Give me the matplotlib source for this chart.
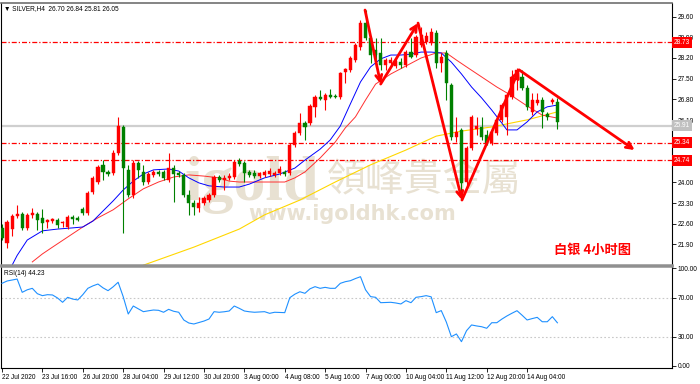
import matplotlib
matplotlib.use("Agg")
import matplotlib.pyplot as plt
import matplotlib.transforms as mtransforms
import numpy as np

# SILVER H4 candles (bar 0 = 22 Jul 2020)
opens = [22.46, 21.95, 22.42, 22.86, 22.93, 22.46, 22.90, 22.93, 22.80, 22.66,
         22.69, 22.73, 22.63, 22.49, 22.83, 22.80, 23.10, 22.96, 23.67, 24.01,
         24.59, 24.35, 24.32, 24.99, 25.87, 24.42, 23.57, 24.65, 24.35, 24.01,
         24.25, 24.35, 24.35, 24.08, 24.49, 24.32, 24.25, 23.57, 23.30, 23.13,
         23.30, 23.40, 23.57, 24.18, 24.08, 24.15, 24.18, 24.72, 24.65, 24.35,
         24.32, 24.21, 24.25, 24.28, 24.25, 24.32, 24.35, 24.32, 25.26, 25.67,
         26.00, 26.00, 26.55, 26.88, 26.78, 26.95, 26.92, 26.88, 27.73, 27.80,
         28.13, 28.57, 29.38, 28.88, 28.47, 28.37, 27.96, 28.03, 27.93, 28.07,
         27.96, 28.40, 28.30, 28.64, 28.74, 28.71, 29.05, 28.03, 28.37, 27.29,
         25.53, 25.77, 24.01, 25.16, 25.80, 25.87, 25.60, 25.33, 25.67, 26.11,
         26.21, 26.88, 27.46, 27.56, 27.19, 26.38, 26.68, 26.78, 26.31, 26.71,
         26.70]
highs = [22.59, 22.73, 22.93, 23.24, 23.00, 22.96, 23.13, 23.00, 23.10, 22.76,
         22.80, 22.80, 22.69, 22.90, 22.90, 22.86, 23.17, 23.71, 24.21, 24.59,
         24.75, 24.42, 25.09, 26.21, 25.94, 24.59, 24.75, 24.72, 24.59, 24.35,
         24.42, 24.42, 24.42, 24.99, 24.59, 24.38, 24.32, 23.74, 23.40, 23.51,
         23.54, 23.64, 24.25, 24.25, 24.25, 24.32, 24.75, 24.82, 24.72, 24.42,
         24.42, 24.35, 24.42, 24.49, 24.38, 24.55, 24.42, 25.33, 25.73, 26.34,
         26.07, 26.65, 26.95, 27.12, 27.02, 27.15, 26.98, 27.73, 27.86, 28.27,
         28.71, 29.48, 29.82, 28.94, 28.88, 28.88, 28.20, 28.23, 28.20, 28.20,
         28.47, 28.88, 28.98, 29.25, 29.08, 29.21, 29.15, 28.37, 28.47, 27.36,
         26.21, 25.84, 25.23, 26.27, 26.21, 26.21, 25.77, 25.84, 26.17, 26.68,
         27.02, 27.80, 27.86, 27.80, 27.29, 27.02, 27.02, 26.88, 26.38, 26.85,
         26.84]
lows = [22.05, 21.78, 22.19, 22.80, 22.39, 22.39, 22.80, 22.39, 22.29, 22.46,
        22.63, 22.46, 22.49, 22.42, 22.59, 22.69, 22.90, 22.90, 23.61, 23.94,
        24.08, 24.21, 24.25, 24.92, 22.29, 23.51, 23.47, 24.15, 23.91, 23.94,
        24.18, 24.21, 24.08, 24.01, 23.34, 24.18, 23.51, 22.90, 22.90, 23.00,
        23.24, 23.34, 23.51, 24.01, 23.74, 24.08, 24.11, 24.55, 24.01, 24.18,
        24.15, 24.15, 24.18, 24.21, 24.18, 24.25, 24.21, 24.25, 25.19, 25.60,
        25.43, 25.94, 26.21, 26.78, 26.44, 26.85, 26.85, 26.82, 27.36, 27.73,
        28.07, 28.47, 28.81, 28.03, 27.90, 27.80, 27.80, 27.93, 27.86, 27.86,
        27.90, 28.20, 28.23, 28.57, 28.67, 28.64, 27.86, 27.73, 26.78, 25.43,
        25.36, 23.40, 23.91, 25.09, 25.60, 25.43, 25.26, 25.26, 25.60, 26.04,
        25.60, 26.82, 27.12, 27.12, 26.44, 26.27, 26.61, 25.84, 26.11, 26.65,
        25.81]
closes = [22.12, 22.66, 22.86, 22.93, 22.46, 22.90, 22.96, 22.73, 22.63, 22.73,
          22.76, 22.56, 22.66, 22.83, 22.76, 22.73, 22.96, 23.64, 24.15, 24.52,
          24.35, 24.28, 24.99, 25.90, 24.49, 23.57, 24.65, 24.42, 24.01, 24.28,
          24.35, 24.28, 24.15, 24.49, 24.28, 24.25, 23.57, 23.30, 23.17, 23.30,
          23.47, 23.57, 24.18, 24.08, 24.15, 24.21, 24.69, 24.62, 24.32, 24.25,
          24.21, 24.32, 24.35, 24.38, 24.32, 24.45, 24.28, 25.26, 25.67, 26.00,
          25.87, 26.58, 26.88, 26.82, 26.95, 26.88, 26.88, 27.69, 27.83, 28.20,
          28.64, 29.38, 28.88, 28.30, 28.30, 27.96, 28.13, 28.13, 28.10, 27.96,
          28.40, 28.23, 28.91, 28.98, 28.94, 29.08, 28.03, 28.23, 27.36, 25.53,
          25.70, 23.98, 25.16, 26.21, 25.90, 25.53, 25.33, 25.70, 26.11, 26.61,
          26.95, 27.56, 27.80, 27.19, 26.55, 26.78, 26.78, 26.38, 26.21, 26.78,
          26.05]

# moving averages as drawn on the chart (bar index, price)
ma_blue_idx = [2, 3, 5, 8, 11, 14, 16, 18, 20, 22, 24, 26, 28, 30, 33, 35, 37, 39, 41, 44,
               47, 49, 52, 55, 58, 60, 63, 65, 67, 69, 71, 73, 75, 77, 79, 81, 83, 85, 87, 89,
               91, 93, 95, 97, 99, 100, 102, 104, 106, 108, 110]
ma_blue_val = [21.20, 21.53, 22.05, 22.36, 22.42, 22.46, 22.49, 22.69, 23.03, 23.37,
               23.74, 24.04, 24.28, 24.42, 24.45, 24.38, 24.15, 23.98, 23.88, 23.84,
               23.84, 23.94, 24.15, 24.28, 24.48, 24.75, 25.12, 25.43, 25.90, 26.65,
               27.39, 27.90, 28.17, 28.30, 28.30, 28.33, 28.40, 28.40, 28.37, 28.06,
               27.66, 27.22, 26.85, 26.44, 26.00, 25.77, 25.77, 26.04, 26.38, 26.55,
               26.61]
ma_red_idx = [6, 8, 10, 13, 16, 19, 22, 25, 28, 31, 34, 37, 40, 43, 45, 47, 56, 58, 60, 63,
              66, 68, 70, 72, 74, 77, 80, 83, 86, 88, 90, 92, 95, 98, 101, 104, 107, 110]
ma_red_val = [21.31, 21.58, 21.81, 22.15, 22.49, 22.80, 23.07, 23.44, 23.78, 24.01,
              24.18, 24.25, 24.21, 24.15, 24.04, 24.01, 24.01, 24.15, 24.35, 24.82,
              25.36, 25.84, 26.21, 26.78, 27.32, 27.66, 27.93, 28.20, 28.37, 28.37,
              28.13, 27.90, 27.56, 27.22, 26.92, 26.58, 26.27, 26.17]
ma_yellow_idx = [28, 38, 47, 52, 59, 66, 73, 80, 86, 91, 97, 104, 110]
ma_yellow_val = [21.20, 21.81, 22.42, 22.90, 23.40, 24.01, 24.59, 25.09, 25.56, 25.73,
                 25.87, 26.11, 26.38]

rsi = [84.6, 87.0, 88.0, 89.0, 75.4, 78.0, 79.5, 74.0, 72.0, 73.0,
       72.7, 69.6, 65.2, 70.3, 68.5, 67.6, 73.0, 79.5, 82.0, 83.9,
       80.0, 77.1, 81.0, 85.7, 71.0, 53.2, 61.4, 58.5, 55.6, 56.5,
       57.3, 57.0, 55.0, 58.0, 56.0, 55.0, 47.1, 44.0, 43.0, 44.5,
       46.0, 48.1, 55.6, 55.0, 55.5, 56.3, 61.4, 59.0, 56.3, 55.5,
       55.0, 55.3, 55.6, 53.9, 55.0, 54.8, 54.6, 69.9, 73.5, 76.0,
       74.4, 79.0, 81.2, 79.5, 80.5, 79.5, 79.5, 84.6, 86.3, 87.3,
       89.5, 91.4, 78.0, 71.0, 70.3, 64.8, 65.0, 65.2, 64.5, 63.5,
       66.9, 64.8, 70.3, 71.0, 72.0, 70.8, 54.6, 56.7, 45.0, 30.0,
       32.8, 24.9, 36.1, 42.0, 41.0, 40.2, 38.6, 44.3, 44.3, 48.0,
       51.2, 54.0, 56.6, 52.0, 47.1, 48.5, 49.8, 45.3, 45.3, 50.5,
       44.23]

date_ticks = [0, 8, 16, 24, 32, 40, 48, 56, 64, 72, 80, 88, 96, 104]
date_labels = ["22 Jul 2020", "23 Jul 16:00", "26 Jul 20:00", "28 Jul 04:00",
               "29 Jul 12:00", "30 Jul 20:00", "3 Aug 00:00", "4 Aug 08:00",
               "5 Aug 16:00", "7 Aug 00:00", "10 Aug 04:00", "11 Aug 12:00",
               "12 Aug 20:00", "14 Aug 04:00"]
price_ticks = [21.90, 22.60, 23.30, 24.00, 24.70, 25.40, 26.10, 26.80, 27.50, 28.20, 28.90, 29.60]
red_levels = [28.73, 25.34, 24.74]
grey_level = 25.91
rsi_ticks = [0, 30, 70, 100]

# hand-drawn zigzag arrows (bar index, price)
arrow_x = [71.9, 75.0, 82.4, 91.1, 102.4, 125.3]
arrow_y = [29.82, 27.32, 29.38, 23.40, 27.80, 25.09]

FONT = "Liberation Sans"
FS = 4.7
BULL, BEAR = "#ff0000", "#008000"

W, H = 700, 384
fig = plt.figure(figsize=(W / 100, H / 100), dpi=100)
fig.patch.set_facecolor("white")


def fig_box(x0, y0, x1, y1):
    # pixel box (top-left origin) -> figure fraction rect
    return [x0 / W, 1 - y1 / H, (x1 - x0) / W, (y1 - y0) / H]


ax = fig.add_axes(fig_box(1, 3, 672, 265))
ax_rsi = fig.add_axes(fig_box(1, 266, 672, 368), sharex=ax)

o, h, l, c = map(np.asarray, (opens, highs, lows, closes))
x = np.arange(len(c))
cols = np.where(c >= o, BULL, BEAR)


def px_axes(px, py):
    return (px - 1) / 671, (265 - py) / 262


# watermark (behind everything)
wm = "#e8e1d2"
ax.text(*px_axes(252, 200), "igold", transform=ax.transAxes, ha="center", va="baseline",
        fontsize=46, family="Liberation Serif", weight="bold", color=wm, zorder=0.5)
ax.text(*px_axes(424, 180), "領峰貴金屬", transform=ax.transAxes, ha="center", va="center",
        fontsize=28, family=["Noto Sans CJK TC", "DejaVu Sans"], color=wm, zorder=0.5)
ax.text(*px_axes(352, 214), "www.igoldhk.com", transform=ax.transAxes, ha="center", va="center",
        fontsize=15, family="DejaVu Sans", weight="bold", color=wm, zorder=0.5)

# levels
for v in red_levels:
    ax.axhline(v, color="red", lw=0.9, linestyle=(0, (4, 1.6, 1, 1.6)), zorder=1)
ax.axhline(grey_level, color="#cfcfcf", lw=1.6, zorder=1)

# moving averages
ax.plot(ma_yellow_idx, ma_yellow_val, color="#ffd700", lw=0.8, zorder=2)
ax.plot(ma_red_idx, ma_red_val, color="#ff3030", lw=0.7, zorder=2)
ax.plot(ma_blue_idx, ma_blue_val, color="#0000ff", lw=0.7, zorder=2)

# candles
ax.vlines(x, l, h, colors=cols, lw=0.8, zorder=3)
ax.bar(x, np.maximum(np.abs(c - o), 0.025), bottom=np.minimum(o, c), width=0.62,
       color=cols, edgecolor=cols, lw=0.3, zorder=4)

# zigzag arrows
for k in range(len(arrow_x) - 1):
    ax.annotate("", xy=(arrow_x[k + 1], arrow_y[k + 1]), xytext=(arrow_x[k], arrow_y[k]),
                arrowprops=dict(arrowstyle="->", color="red", lw=2.0, mutation_scale=11,
                                shrinkA=0, shrinkB=0),
                annotation_clip=False, zorder=6)

ax.set_xlim(-0.2, 132.7)
ax.set_ylim(21.206, 30.058)
ax.yaxis.tick_right()
ax.set_yticks(price_ticks)
# labels hidden under the level boxes are left blank
hidden = {25.40, 24.70}
ax.set_yticklabels(["" if v in hidden else f"{v:.2f}" for v in price_ticks])
ax.tick_params(axis="y", direction="out", length=3, width=0.6, pad=1,
               labelsize=FS, labelfontfamily=FONT)
ax.tick_params(axis="x", bottom=False, labelbottom=False)

# right-side price boxes
ytrans = mtransforms.blended_transform_factory(ax.transAxes, ax.transData)
for v in red_levels:
    ax.text(1.0025, v, f"{v:.2f}", transform=ytrans, ha="left", va="center", fontsize=FS,
            family=FONT, color="white", zorder=10, clip_on=False,
            bbox=dict(boxstyle="square,pad=0.3", fc="#ff0000", ec="none"))
ax.text(1.0025, grey_level, f"{grey_level:.2f}", transform=ytrans, ha="left", va="center",
        fontsize=FS, family=FONT, color="white", zorder=10, clip_on=False,
        bbox=dict(boxstyle="square,pad=0.3", fc="#c0c0c0", ec="none"))

ax.text(0.004, 0.992, "\u25bc SILVER,H4  26.70 26.84 25.81 26.05", transform=ax.transAxes,
        ha="left", va="top", fontsize=FS, family=[FONT, "DejaVu Sans"], zorder=10)
ax.text(*px_axes(593, 250), "白银 4小时图", transform=ax.transAxes, ha="center", va="center",
        fontsize=9.5, family=["Noto Sans CJK SC", "DejaVu Sans"], weight="bold",
        color="#ff0000", zorder=10)

for s in ("left", "right"):
    ax.spines[s].set_color("black")
    ax.spines[s].set_linewidth(0.8)
ax.spines["top"].set_color("#707070")
ax.spines["top"].set_linewidth(1.2)
ax.spines["bottom"].set_color("#909090")
ax.spines["bottom"].set_linewidth(1.8)

# RSI panel
ax_rsi.plot(x, rsi, color="#1e90ff", lw=0.8, zorder=3)
for v in (30, 70):
    ax_rsi.axhline(v, color="#c8c8c8", lw=0.8, linestyle=(0, (1.5, 2)), zorder=1)
ax_rsi.set_ylim(-2.05, 102.35)
ax_rsi.yaxis.tick_right()
ax_rsi.set_yticks(rsi_ticks)
ax_rsi.set_yticklabels([f"{v:.2f}" for v in rsi_ticks])
ax_rsi.tick_params(axis="y", direction="out", length=3, width=0.6, pad=1,
                   labelsize=FS, labelfontfamily=FONT)
ax_rsi.set_xticks(date_ticks)
ax_rsi.set_xticklabels(date_labels, ha="left")
ax_rsi.tick_params(axis="x", direction="out", length=3, width=0.6, pad=1.5,
                   labelsize=FS, labelfontfamily=FONT)
ax_rsi.text(0.004, 0.96, "RSI(14) 44.23", transform=ax_rsi.transAxes, ha="left", va="top",
            fontsize=FS, family=FONT)
for s in ("left", "right", "bottom"):
    ax_rsi.spines[s].set_color("black")
    ax_rsi.spines[s].set_linewidth(0.8)
ax_rsi.spines["top"].set_color("#909090")
ax_rsi.spines["top"].set_linewidth(1.8)

fig.savefig("out.png", dpi=100, facecolor="white")
